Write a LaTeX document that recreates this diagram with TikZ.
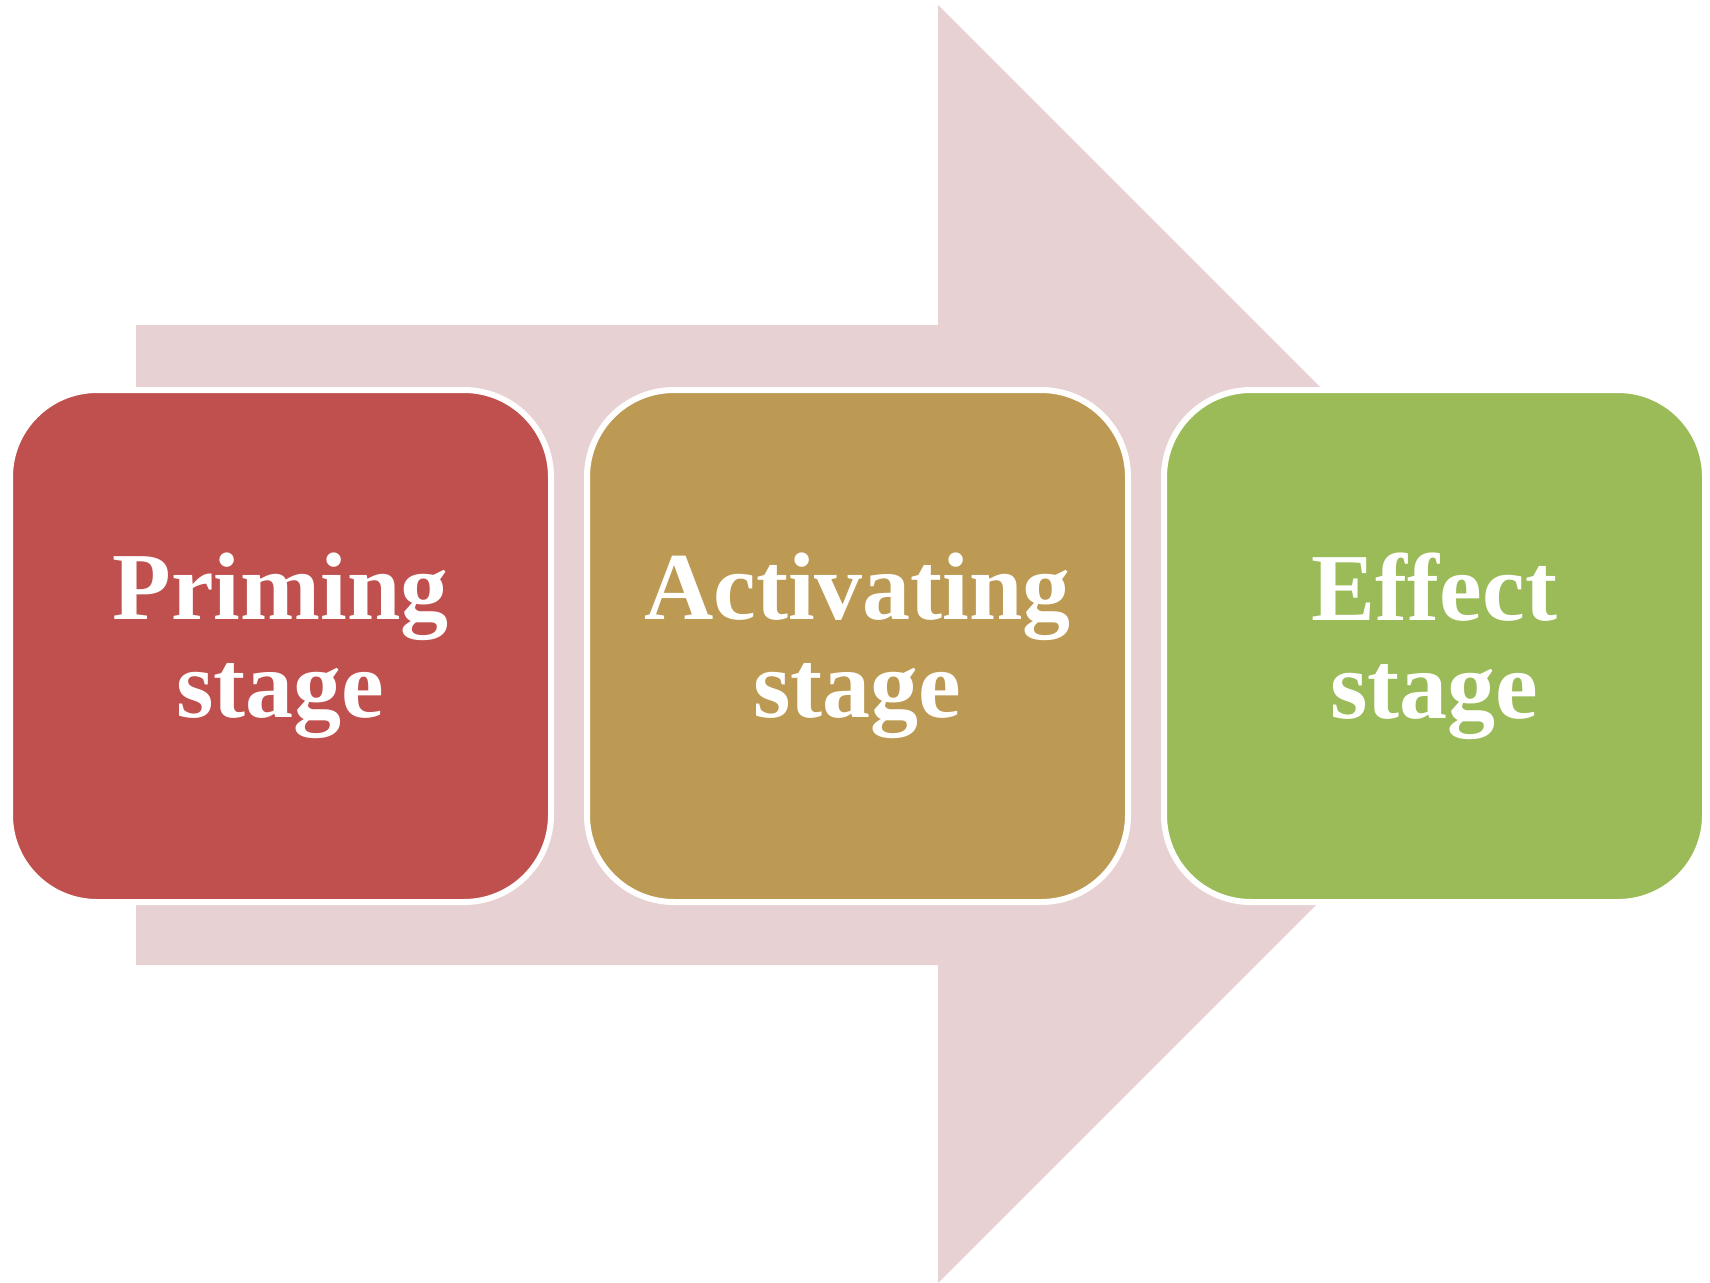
\documentclass[tikz,border=0pt]{standalone}
\usepackage{fontspec}
\setmainfont{Liberation Serif}
\definecolor{arrowpink}{RGB}{231,209,210}
\definecolor{stagered}{RGB}{192,80,77}
\definecolor{stagegold}{RGB}{188,154,83}
\definecolor{stagegreen}{RGB}{155,187,89}
\begin{document}
\begin{tikzpicture}[x=1pt,y=-1pt,
  stagebox/.style={draw=white, line width=6pt, rounded corners=87pt,
    minimum width=541pt, minimum height=512pt, inner sep=0pt,
    text=white, align=center,
    font=\bfseries\fontsize{96}{98}\selectfont}]
\useasboundingbox (0,0) rectangle (1710,1282);
\fill[arrowpink] (136,325) -- (938,325) -- (938,5) -- (1577,644)
  -- (938,1283) -- (938,965) -- (136,965) -- cycle;
\node[stagebox, fill=stagered]   (prime)  at (280.5,646) {Priming\\stage};
\node[stagebox, fill=stagegold]  (activ)  at (857.5,646) {Activating\\stage};
\node[stagebox, fill=stagegreen] (effect) at (1434.5,646) {Effect\\stage};
\end{tikzpicture}
\end{document}
